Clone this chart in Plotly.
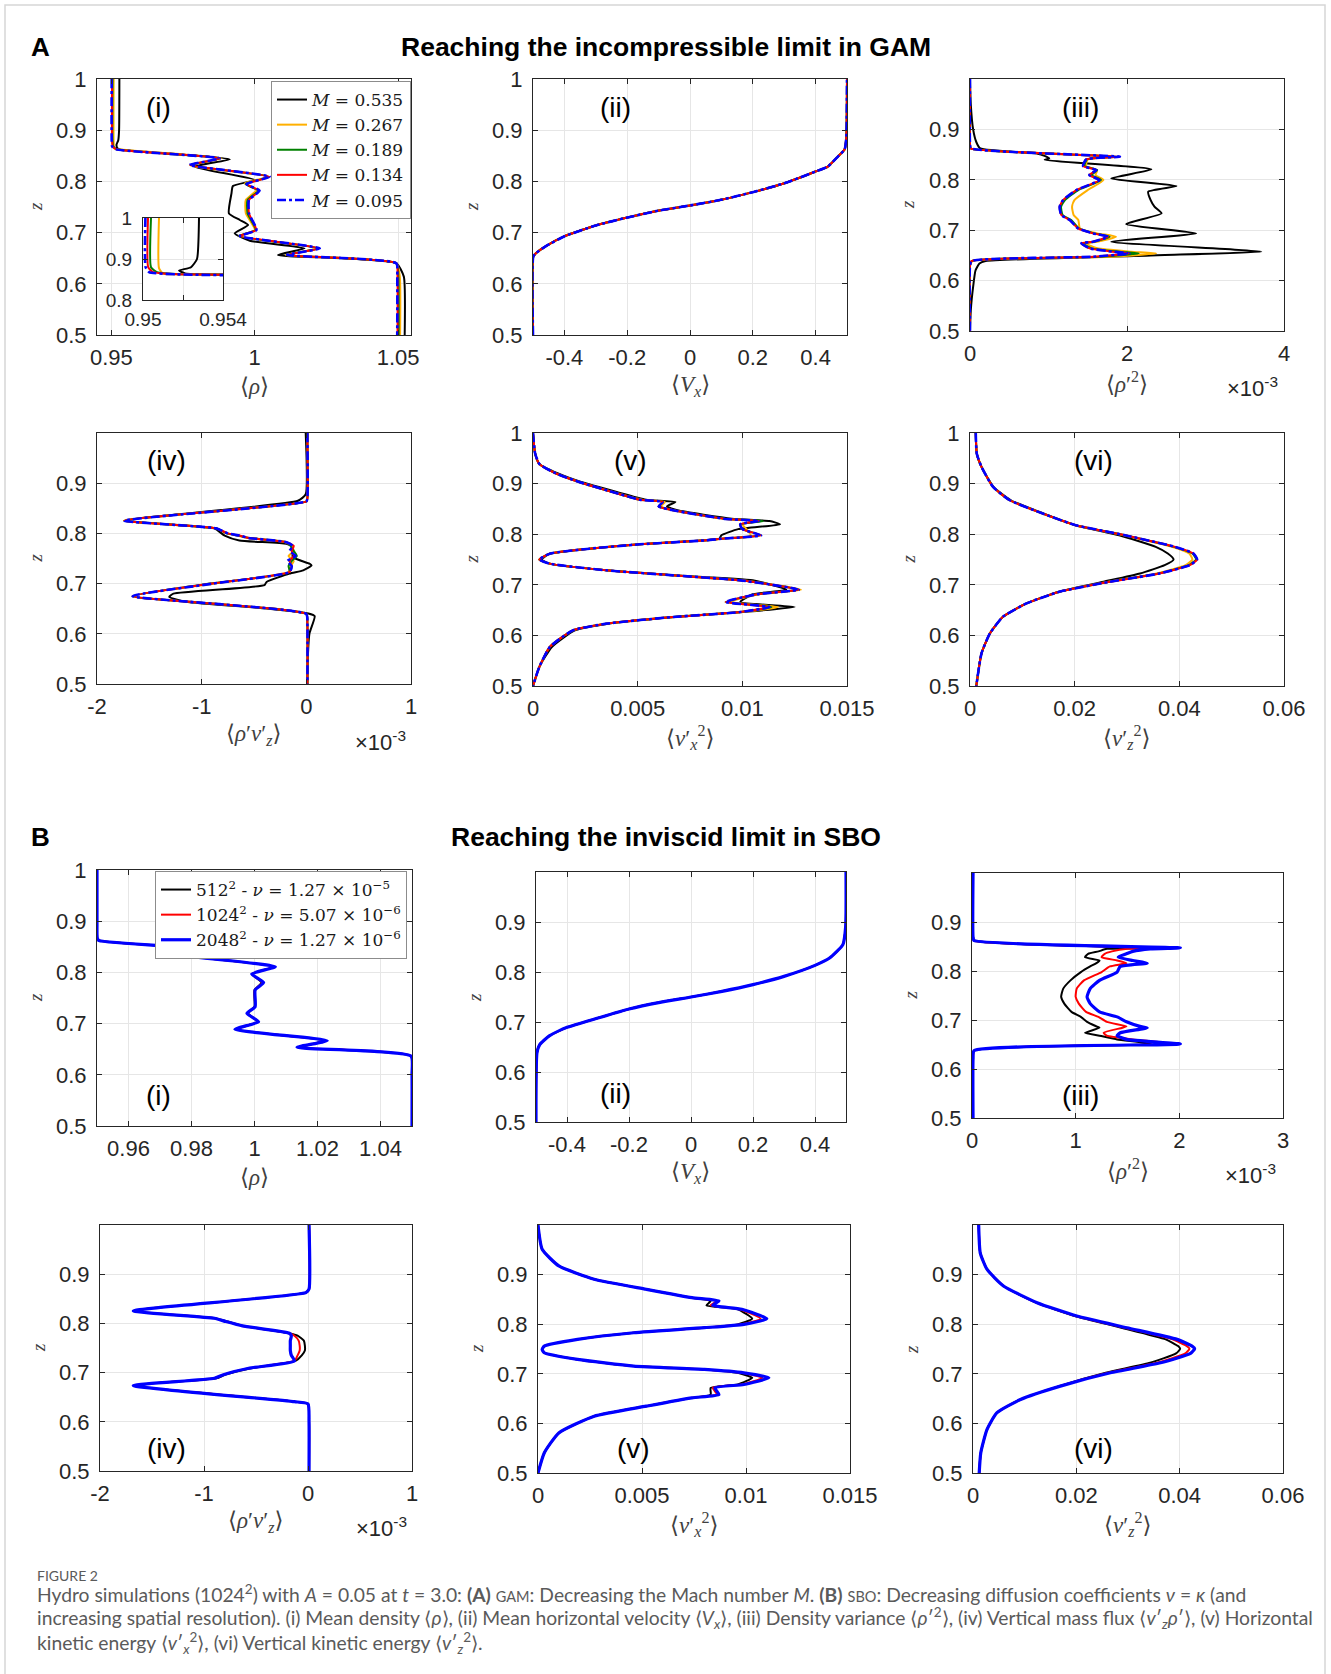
import plotly.graph_objects as go

W, H = 1331, 1674

# ======================= DATA =======================
# ---- Panel A : GAM, decreasing Mach number ----
mach_values = ["0.535", "0.267", "0.189", "0.134", "0.095"]

# A(i) mean density <rho>(z)
zA1_black = [1.0, 0.9, 0.88, 0.8718, 0.8650, 0.8626, 0.8431, 0.8288, 0.8027, 0.791, 0.7767, 0.7376, 0.7246,
             0.7148, 0.6986, 0.6842, 0.6693, 0.6563, 0.640, 0.614, 0.5]
rhoA1_black = [0.9528, 0.9527, 0.9524, 0.9518, 0.9521, 0.9530, 0.9913, 0.9791, 1.0, 0.9924, 0.9919, 0.991, 0.9948,
               0.9977, 0.993, 0.9983, 1.0174, 1.0081, 1.0494, 1.052, 1.0523]
zA1_orange = [1.0, 0.8776, 0.8645, 0.8626, 0.845, 0.8307, 0.8092, 0.7962, 0.7832, 0.7637, 0.7376, 0.7051, 0.6934,
              0.6693, 0.6563, 0.640, 0.614, 0.5]
rhoA1_orange = [0.9508, 0.9508, 0.9510, 0.9520, 0.9884, 0.9776, 1.0047, 0.9965, 1.0006, 0.9969, 0.9969, 1.0,
                0.9945, 1.0221, 1.0108, 1.0494, 1.0506, 1.0507]
zA1_conv = [1.0, 0.88, 0.868, 0.8626, 0.845, 0.832, 0.8092, 0.7949, 0.7819, 0.7637, 0.7376, 0.7051, 0.6934, 0.6693,
            0.6563, 0.640, 0.614, 0.5]
rhoA1_green = [0.9504, 0.9504, 0.9507, 0.9519, 0.9881, 0.9775, 1.0049, 0.9968, 1.0012, 0.9975, 0.9975, 1.0003,
               0.9946, 1.0224, 1.0111, 1.0494, 1.0501, 1.0502]
rhoA1_red = [0.95025, 0.95026, 0.9505, 0.9518, 0.9880, 0.9774, 1.0051, 0.9971, 1.0016, 0.998, 0.998, 1.0005,
             0.9948, 1.0226, 1.0113, 1.0494, 1.0498, 1.0498]
rhoA1_blue = [0.95012, 0.95013, 0.9503, 0.9517, 0.9878, 0.9773, 1.0052, 0.9971, 1.0017, 0.998, 0.998, 1.0006,
              0.9948, 1.0227, 1.0113, 1.0494, 1.0497, 1.0497]

# A(ii) mean horizontal velocity <Vx>(z) (all Mach numbers overlap)
zA2 = [0.5, 0.6534, 0.660, 0.673, 0.6925, 0.7139, 0.7295, 0.7432, 0.7530, 0.764, 0.779, 0.7965, 0.8193, 0.829,
       0.8485, 0.8628, 0.8875, 1.0]
vxA2 = [-0.5, -0.499, -0.49, -0.46, -0.401, -0.300, -0.199, -0.098, 0.0, 0.099, 0.2, 0.301, 0.4, 0.439, 0.471,
        0.4925, 0.498, 0.5]

# A(iii) density variance <rho'^2>  (units of 1e-3)
zA3_black = [1.0, 0.95, 0.9, 0.875, 0.8623, 0.852, 0.8475, 0.8425, 0.8395, 0.8207, 0.8028, 0.7876, 0.7764, 0.76,
             0.7466, 0.7334, 0.7122, 0.6937, 0.6772, 0.6574, 0.650, 0.6388, 0.634, 0.62, 0.588, 0.541, 0.5]
rho2A3_black = [0.0, 0.01, 0.04, 0.08, 0.13, 0.85, 0.95, 1.01, 0.95, 2.31, 1.80, 2.63, 2.27, 2.30, 2.35, 2.44,
                1.99, 2.88, 1.80, 3.71, 2.30, 0.20, 0.12, 0.07, 0.04, 0.01, 0.0]
zA3 = [1.0, 0.87, 0.8623, 0.8458, 0.8405, 0.8273, 0.8193, 0.8094, 0.7995, 0.7797, 0.7598, 0.7466, 0.7301, 0.7202,
       0.7036, 0.6937, 0.6871, 0.6772, 0.6739, 0.6640, 0.6574, 0.6540, 0.6474, 0.6388, 0.63, 0.5]
rho2A3_orange = [0, 0, 0.01, 1.88, 1.50, 1.48, 1.62, 1.60, 1.70, 1.50, 1.33, 1.30, 1.32, 1.38, 1.40, 1.62, 1.86,
                 1.62, 1.48, 1.62, 2.05, 2.37, 1.80, 0.03, 0, 0]
rho2A3_green = [0, 0, 0.01, 1.90, 1.49, 1.46, 1.62, 1.55, 1.67, 1.38, 1.21, 1.16, 1.18, 1.29, 1.39, 1.58, 1.78,
                1.58, 1.44, 1.55, 1.90, 2.15, 1.65, 0.02, 0, 0]
rho2A3_red = [0, 0, 0.01, 1.91, 1.48, 1.44, 1.61, 1.52, 1.65, 1.355, 1.185, 1.142, 1.163, 1.27, 1.376, 1.567,
              1.758, 1.567, 1.418, 1.524, 1.82, 2.03, 1.57, 0.02, 0, 0]
rho2A3_blue = [0, 0, 0.01, 1.91, 1.48, 1.44, 1.61, 1.52, 1.65, 1.355, 1.185, 1.142, 1.163, 1.27, 1.376, 1.567,
               1.758, 1.567, 1.418, 1.524, 1.82, 2.03, 1.57, 0.02, 0, 0]

# A(iv) vertical mass flux <rho' vz'> (units of 1e-3)
zA4_black = [1.0, 0.878, 0.865, 0.8254, 0.81, 0.7957, 0.7858, 0.7792, 0.7726, 0.7528, 0.7396, 0.7363, 0.7264,
             0.72, 0.7033, 0.697, 0.68, 0.6736, 0.6637, 0.6505, 0.6406, 0.6353, 0.601, 0.5614, 0.5]
fluxA4_black = [-0.006, -0.006, -0.08, -1.72, -0.88, -0.78, -0.64, -0.19, -0.13, -0.13, 0.03, 0.05, -0.03, -0.16,
                -0.38, -0.40, -1.27, -1.31, -1.15, -0.38, 0.02, 0.08, 0.03, 0.016, 0.01]
zA4 = [1.0, 0.87, 0.8637, 0.8254, 0.81, 0.80, 0.7957, 0.791, 0.7825, 0.775, 0.765, 0.755, 0.745, 0.735, 0.7231,
       0.70, 0.675, 0.6393, 0.62, 0.5]
fluxA4_orange = [0.01, 0.01, 0.0, -1.74, -0.86, -0.76, -0.66, -0.56, -0.20, -0.14, -0.12, -0.17, -0.12, -0.15,
                 -0.17, -0.88, -1.66, 0.0, 0.01, 0.01]
fluxA4_green = [0.01, 0.01, 0.0, -1.74, -0.86, -0.76, -0.65, -0.55, -0.19, -0.15, -0.12, -0.09, -0.14, -0.17,
                -0.16, -0.92, -1.66, 0.0, 0.01, 0.01]
fluxA4_red = [0.01, 0.01, 0.0, -1.74, -0.86, -0.75, -0.64, -0.55, -0.19, -0.12, -0.14, -0.12, -0.16, -0.14,
              -0.16, -0.90, -1.66, 0.0, 0.01, 0.01]
fluxA4_blue = [0.01, 0.01, 0.0, -1.74, -0.86, -0.75, -0.64, -0.55, -0.19, -0.13, -0.16, -0.10, -0.18, -0.14,
               -0.16, -0.89, -1.66, 0.0, 0.01, 0.01]

# A(v) horizontal kinetic energy <vx'^2>
zA5 = [1.0, 0.96, 0.939, 0.92, 0.9032, 0.8834, 0.8682, 0.8636, 0.855, 0.8472, 0.8307, 0.826, 0.8195, 0.81, 0.7978,
       0.791, 0.788, 0.78, 0.7714, 0.7615, 0.75, 0.7418, 0.7286, 0.7187, 0.7088, 0.6904, 0.6812, 0.666, 0.6561,
       0.6462, 0.6364, 0.6232, 0.61, 0.5771, 0.5375, 0.5]
ekxA5_black = [0.0, 0.0001, 0.0003, 0.0012, 0.0023, 0.0040, 0.0054, 0.0068, 0.0064, 0.0069, 0.0095, 0.0113,
               0.0118, 0.0098, 0.0090, 0.0089, 0.0083, 0.0051, 0.0027, 0.0008, 0.0004, 0.0008, 0.0035, 0.0068,
               0.0105, 0.0121, 0.0105, 0.0099, 0.0125, 0.0100, 0.0068, 0.0036, 0.0020, 0.0009, 0.0003, 0.0]
ekxA5_orange = [0.0, 0.0001, 0.0003, 0.0011, 0.0022, 0.0038, 0.0052, 0.0063, 0.0061, 0.0067, 0.0091, 0.0108,
                0.0100, 0.0102, 0.0104, 0.0090, 0.0083, 0.0051, 0.0027, 0.0008, 0.0003, 0.0008, 0.0035, 0.0067,
                0.0100, 0.0128, 0.0108, 0.0094, 0.0117, 0.0100, 0.0067, 0.0035, 0.0019, 0.0008, 0.0003, 0.0]
ekxA5_green = [0.0, 0.0001, 0.0003, 0.0011, 0.0022, 0.0038, 0.0051, 0.0062, 0.0060, 0.0067, 0.0091, 0.0110,
               0.0099, 0.0100, 0.0109, 0.0090, 0.0083, 0.0051, 0.0027, 0.0008, 0.0003, 0.0008, 0.0035, 0.0067,
               0.0099, 0.0127, 0.0107, 0.0092, 0.0114, 0.0099, 0.0067, 0.0035, 0.0019, 0.0008, 0.0003, 0.0]
ekxA5_red = [0.0, 0.0001, 0.0003, 0.0011, 0.0022, 0.0038, 0.0051, 0.0062, 0.0060, 0.0067, 0.0091, 0.0108,
             0.0099, 0.0100, 0.0109, 0.0090, 0.0083, 0.0051, 0.0027, 0.0008, 0.0003, 0.0008, 0.0035, 0.0067,
             0.0099, 0.0127, 0.0107, 0.0092, 0.0113, 0.0099, 0.0067, 0.0035, 0.0019, 0.0008, 0.0003, 0.0]
ekxA5_blue = [0.0, 0.0001, 0.0003, 0.0011, 0.0022, 0.0038, 0.0051, 0.0062, 0.0060, 0.0067, 0.0091, 0.0108,
              0.0099, 0.0100, 0.0109, 0.0090, 0.0083, 0.0051, 0.0027, 0.0008, 0.0003, 0.0008, 0.0035, 0.0067,
              0.0099, 0.0127, 0.0107, 0.0092, 0.0113, 0.0099, 0.0067, 0.0035, 0.0019, 0.0008, 0.0003, 0.0]

# A(vi) vertical kinetic energy <vz'^2>
zA6 = [1.0, 0.959, 0.933, 0.8934, 0.8671, 0.8408, 0.8178, 0.798, 0.775, 0.7618, 0.75, 0.7388, 0.7224, 0.7059,
       0.6862, 0.6632, 0.6368, 0.6039, 0.5645, 0.5]
ekzA6_black = [0.0011, 0.0013, 0.0022, 0.0045, 0.0078, 0.0141, 0.0202, 0.0285, 0.0355, 0.0378, 0.0389, 0.0372,
               0.0325, 0.0255, 0.0170, 0.0108, 0.0063, 0.0038, 0.0022, 0.0012]
ekzA6_orange = [0.0011, 0.0013, 0.0022, 0.0044, 0.0076, 0.0139, 0.0201, 0.0294, 0.0386, 0.0419, 0.0425, 0.0412,
                0.0357, 0.0265, 0.0171, 0.0108, 0.0063, 0.0038, 0.0022, 0.0012]
ekzA6_green = [0.0011, 0.0013, 0.0022, 0.0044, 0.0076, 0.0139, 0.0202, 0.0296, 0.0390, 0.0425, 0.0432, 0.0418,
               0.0361, 0.0267, 0.0171, 0.0108, 0.0063, 0.0038, 0.0022, 0.0012]
ekzA6_red = [0.0011, 0.0013, 0.0022, 0.0044, 0.0076, 0.0139, 0.0202, 0.0296, 0.0392, 0.0427, 0.0434, 0.0420,
             0.0362, 0.0267, 0.0171, 0.0108, 0.0063, 0.0038, 0.0022, 0.0012]
ekzA6_blue = [0.0011, 0.0013, 0.0022, 0.0044, 0.0076, 0.0139, 0.0202, 0.0296, 0.0392, 0.0427, 0.0434, 0.0420,
              0.0362, 0.0267, 0.0171, 0.0108, 0.0063, 0.0038, 0.0022, 0.0012]

# ---- Panel B : SBO, decreasing diffusion coefficients ----
res_labels = ["512", "1024", "2048"]
nu_labels = [("1.27", "−5"), ("5.07", "−6"), ("1.27", "−6")]

zB1 = [1.0, 0.9, 0.8665, 0.862, 0.8438, 0.834, 0.8112, 0.7969, 0.78, 0.7656, 0.733, 0.72, 0.7038, 0.6888, 0.6667,
       0.6536, 0.6367, 0.6, 0.5]
rhoB1_black = [0.9500, 0.9500, 0.9501, 0.9507, 0.9865, 0.9772, 1.0062, 0.9993, 1.0022, 1.0000, 1.0000, 0.9980,
               1.0009, 0.9942, 1.0226, 1.0139, 1.0497, 1.0500, 1.0500]
rhoB1_red = [0.9500, 0.9500, 0.9501, 0.9507, 0.9867, 0.9770, 1.0064, 0.9992, 1.0025, 1.0001, 1.0001, 0.9978,
             1.0011, 0.9940, 1.0229, 1.0137, 1.0497, 1.0500, 1.0500]
rhoB1_blue = [0.9500, 0.9500, 0.9501, 0.9507, 0.9869, 0.9768, 1.0066, 0.9991, 1.0029, 1.0002, 1.0002, 0.9976,
              1.0013, 0.9938, 1.0231, 1.0135, 1.0497, 1.0500, 1.0500]

zB2 = [0.5, 0.638, 0.6547, 0.6727, 0.6893, 0.708, 0.726, 0.7393, 0.75, 0.7613, 0.7747, 0.7913, 0.8133, 0.828,
       0.8547, 0.891, 1.0]
vxB2 = [-0.5, -0.497, -0.488, -0.456, -0.4, -0.3, -0.2, -0.1, 0.0, 0.1, 0.2, 0.3, 0.4, 0.447, 0.49, 0.499, 0.5]

zB3 = [1.0, 0.87, 0.862, 0.8472, 0.8452, 0.840, 0.835, 0.8283, 0.8215, 0.8161, 0.8093, 0.7978, 0.7809, 0.764,
       0.747, 0.7335, 0.7166, 0.7064, 0.6963, 0.6870, 0.6841, 0.6739, 0.6680, 0.6604, 0.651, 0.6374, 0.62, 0.5]
rho2B3_black = [0.01, 0.01, 0.02, 1.73, 1.30, 1.22, 1.12, 1.09, 1.23, 1.20, 1.14, 1.05, 0.95, 0.88, 0.86, 0.89,
                0.96, 1.05, 1.11, 1.20, 1.23, 1.09, 1.23, 1.40, 1.73, 0.02, 0.01, 0.01]
rho2B3_red = [0.01, 0.01, 0.02, 1.95, 1.50, 1.35, 1.28, 1.25, 1.40, 1.49, 1.33, 1.25, 1.08, 1.01, 1.00, 1.03, 1.10,
              1.22, 1.30, 1.49, 1.45, 1.27, 1.30, 1.55, 1.95, 0.02, 0.01, 0.01]
rho2B3_blue = [0.01, 0.01, 0.02, 2.01, 1.72, 1.55, 1.49, 1.41, 1.55, 1.69, 1.43, 1.40, 1.23, 1.14, 1.11, 1.14,
               1.23, 1.40, 1.49, 1.62, 1.69, 1.43, 1.40, 1.49, 2.01, 0.02, 0.01, 0.01]

zB4 = [1.0, 0.87, 0.8627, 0.8254, 0.8105, 0.8037, 0.7949, 0.78, 0.775, 0.765, 0.755, 0.745, 0.735, 0.7237, 0.7088,
       0.6953, 0.6885, 0.6736, 0.6410, 0.6363, 0.60, 0.5]
fluxB4_black = [0.01, 0.01, -0.02, -1.68, -0.90, -0.77, -0.62, -0.18, -0.10, -0.04, -0.03, -0.03, -0.06, -0.12,
                -0.55, -0.80, -0.88, -1.68, -0.13, 0.0, 0.01, 0.01]
fluxB4_red = [0.01, 0.01, -0.02, -1.68, -0.90, -0.79, -0.63, -0.18, -0.13, -0.09, -0.08, -0.08, -0.10, -0.13,
              -0.57, -0.82, -0.90, -1.68, -0.13, 0.0, 0.01, 0.01]
fluxB4_blue = [0.01, 0.01, -0.02, -1.68, -0.90, -0.79, -0.63, -0.18, -0.16, -0.17, -0.17, -0.17, -0.16, -0.13,
               -0.57, -0.82, -0.90, -1.68, -0.13, 0.0, 0.01, 0.01]

zB5 = [1.0, 0.951, 0.9175, 0.8906, 0.8704, 0.8535, 0.8468, 0.838, 0.83, 0.8111, 0.7997, 0.7929, 0.7828, 0.7694,
       0.7559, 0.7492, 0.7424, 0.729, 0.7155, 0.7088, 0.702, 0.6919, 0.6785, 0.6717, 0.6582, 0.6515, 0.6347, 0.6145,
       0.5808, 0.5404, 0.5]
ekxB5_black = [0.0, 0.0002, 0.0010, 0.0027, 0.0052, 0.0074, 0.0083, 0.0081, 0.0096, 0.0103, 0.0096, 0.0080,
               0.0046, 0.0019, 0.0003, 0.0002, 0.0003, 0.0019, 0.0046, 0.0080, 0.0096, 0.0103, 0.0096, 0.0083,
               0.0083, 0.0074, 0.0052, 0.0027, 0.0010, 0.0003, 0.0]
ekxB5_red = [0.0, 0.0002, 0.0010, 0.0027, 0.0052, 0.0074, 0.0086, 0.0083, 0.0097, 0.0107, 0.0098, 0.0080, 0.0046,
             0.0019, 0.0003, 0.0002, 0.0003, 0.0019, 0.0046, 0.0080, 0.0098, 0.0108, 0.0098, 0.0084, 0.0086, 0.0074,
             0.0052, 0.0027, 0.0010, 0.0003, 0.0]
ekxB5_blue = [0.0, 0.0002, 0.0010, 0.0027, 0.0052, 0.0074, 0.0087, 0.0084, 0.0098, 0.0110, 0.0099, 0.0080, 0.0046,
              0.0019, 0.0003, 0.0002, 0.0003, 0.0019, 0.0046, 0.0080, 0.0099, 0.0111, 0.0099, 0.0085, 0.0087,
              0.0074, 0.0052, 0.0027, 0.0010, 0.0003, 0.0]

zB6 = [1.0, 0.944, 0.9108, 0.8771, 0.8434, 0.8165, 0.7929, 0.7694, 0.7559, 0.7505, 0.7411, 0.7222, 0.702, 0.6751,
       0.6482, 0.6212, 0.5875, 0.5404, 0.5]
ekzB6_black = [0.0011, 0.0014, 0.0027, 0.0059, 0.0122, 0.0197, 0.0287, 0.0373, 0.0397, 0.0401, 0.0393, 0.0343,
               0.0257, 0.0167, 0.0092, 0.0046, 0.0027, 0.0015, 0.0012]
ekzB6_red = [0.0011, 0.0014, 0.0027, 0.0059, 0.0123, 0.0199, 0.0293, 0.0386, 0.0414, 0.0419, 0.0411, 0.0356,
             0.0262, 0.0168, 0.0092, 0.0046, 0.0027, 0.0015, 0.0012]
ekzB6_blue = [0.0011, 0.0014, 0.0027, 0.0059, 0.0124, 0.0201, 0.0298, 0.0395, 0.0424, 0.0429, 0.0421, 0.0363,
              0.0266, 0.0169, 0.0092, 0.0046, 0.0027, 0.0015, 0.0012]

# ---- tick values / labels ----
z_ticks_full = [0.5, 0.6, 0.7, 0.8, 0.9, 1.0]
z_ticktext_full = ["0.5", "0.6", "0.7", "0.8", "0.9", "1"]
z_ticks_short = [0.5, 0.6, 0.7, 0.8, 0.9]
z_ticktext_short = ["0.5", "0.6", "0.7", "0.8", "0.9"]
rhoA_ticks, rhoA_text = [0.95, 1.0, 1.05], ["0.95", "1", "1.05"]
rhoB_ticks, rhoB_text = [0.96, 0.98, 1.0, 1.02, 1.04], ["0.96", "0.98", "1", "1.02", "1.04"]
vx_ticks, vx_text = [-0.4, -0.2, 0, 0.2, 0.4], ["-0.4", "-0.2", "0", "0.2", "0.4"]
rho2A_ticks, rho2A_text = [0, 2, 4], ["0", "2", "4"]
rho2B_ticks, rho2B_text = [0, 1, 2, 3], ["0", "1", "2", "3"]
flux_ticks, flux_text = [-2, -1, 0, 1], ["-2", "-1", "0", "1"]
ekx_ticks, ekx_text = [0, 0.005, 0.01, 0.015], ["0", "0.005", "0.01", "0.015"]
ekz_ticks, ekz_text = [0, 0.02, 0.04, 0.06], ["0", "0.02", "0.04", "0.06"]
inset_xticks, inset_xtext = [0.95, 0.952, 0.954], ["0.95", "", "0.954"]
inset_zticks, inset_ztext = [0.8, 0.9, 1.0], ["0.8", "0.9", "1"]

# ======================= STYLE / LAYOUT =======================
colA = ["#000000", "#FFB000", "#008000", "#FF0000", "#0000FF"]
lineA = [dict(width=2), dict(width=2), dict(width=2), dict(width=2), dict(width=2.6, dash="dashdot")]
colB = ["#000000", "#FF0000", "#0000FF"]
lineB = [dict(width=2), dict(width=2), dict(width=3.2)]

namesA = ["<i>M</i> = " + m for m in mach_values]
namesB = [r + "<sup>2</sup> - <i>ν</i> = " + a + " × 10<sup>" + e + "</sup>" for r, (a, e) in zip(res_labels, nu_labels)]

TICKFONT = dict(family="Liberation Sans, Arial, sans-serif", size=22, color="#262626")
SERIF = "Liberation Serif, DejaVu Serif, serif"
LEGSERIF = "DejaVu Serif, Liberation Serif, serif"

layout = dict(width=W, height=H, margin=dict(l=0, r=0, t=0, b=0, autoexpand=False), autosize=False,
              template="none", paper_bgcolor="white", plot_bgcolor="white", showlegend=True)
annotations = []
shapes = []


def ann(text, x, y, size, family="Liberation Sans, Arial, sans-serif", color="#000000",
        xanchor="center", yanchor="middle", angle=0):
    annotations.append(dict(text=text, x=x / W, y=1 - y / H, xref="paper", yref="paper", showarrow=False,
                            font=dict(family=family, size=size, color=color), xanchor=xanchor,
                            yanchor=yanchor, textangle=angle))


def add_axes(n, box, xr, xt, xtt, yt, ytt, yr=(0.5, 1.0), fsize=22, xstand=3, ystand=5):
    x0, x1, y0, y1 = box
    sfx = "" if n == 1 else str(n)
    common = dict(showline=True, linecolor="#262626", linewidth=1, mirror="ticks", ticks="inside", ticklen=5,
                  tickcolor="#262626", showgrid=True, gridcolor="#e6e6e6", gridwidth=1, zeroline=False,
                  tickfont=dict(TICKFONT, size=fsize), tickmode="array", fixedrange=True, automargin=False)
    layout["xaxis" + sfx] = dict(common, domain=[x0 / W, x1 / W], range=list(xr), anchor="y" + sfx,
                                 tickvals=xt, ticktext=xtt, ticklabelstandoff=xstand)
    layout["yaxis" + sfx] = dict(common, domain=[1 - y1 / H, 1 - y0 / H], range=list(yr), anchor="x" + sfx,
                                 tickvals=yt, ticktext=ytt, ticklabelstandoff=ystand)
    return ("x" + sfx, "y" + sfx)


traces = []


def add_series(axes, curves, colors, lines, names=None, legend=None):
    for i, (z, v) in enumerate(curves):
        traces.append(go.Scatter(
            x=v, y=z, xaxis=axes[0], yaxis=axes[1], mode="lines",
            line=dict(color=colors[i], shape="spline", smoothing=0.5, **lines[i]),
            name=names[i] if names else None, showlegend=bool(names), legend=legend,
            hoverinfo="skip"))


# panel boxes (pixel: left, right, top, bottom)
boxes = {
    "A1": (97, 411, 79, 335), "A2": (533, 847, 79, 335), "A3": (970, 1284, 79, 331),
    "A4": (97, 411, 433, 684), "A5": (533, 847, 433, 686), "A6": (970, 1284, 433, 686),
    "B1": (97, 412, 870, 1126), "B2": (536, 846, 872, 1122), "B3": (972, 1283, 873, 1118),
    "B4": (100, 412, 1225, 1471), "B5": (538, 850, 1225, 1473), "B6": (973, 1283, 1225, 1473),
}

# ---- Panel A ----
ax = add_axes(1, boxes["A1"], (0.945, 1.0545), rhoA_ticks, rhoA_text, z_ticks_full, z_ticktext_full)
add_series(ax, [(zA1_black, rhoA1_black), (zA1_orange, rhoA1_orange), (zA1_conv, rhoA1_green),
                (zA1_conv, rhoA1_red), (zA1_conv, rhoA1_blue)], colA, lineA, namesA, "legend")
ax = add_axes(2, boxes["A2"], (-0.5, 0.5), vx_ticks, vx_text, z_ticks_full, z_ticktext_full)
add_series(ax, [(zA2, vxA2)] * 5, colA, lineA)
ax = add_axes(3, boxes["A3"], (0, 4), rho2A_ticks, rho2A_text, z_ticks_short, z_ticktext_short)
add_series(ax, [(zA3_black, rho2A3_black), (zA3, rho2A3_orange), (zA3, rho2A3_green), (zA3, rho2A3_red),
                (zA3, rho2A3_blue)], colA, lineA)
ax = add_axes(4, boxes["A4"], (-2, 1), flux_ticks, flux_text, z_ticks_short, z_ticktext_short)
add_series(ax, [(zA4_black, fluxA4_black), (zA4, fluxA4_orange), (zA4, fluxA4_green), (zA4, fluxA4_red),
                (zA4, fluxA4_blue)], colA, lineA)
ax = add_axes(5, boxes["A5"], (0, 0.015), ekx_ticks, ekx_text, z_ticks_full, z_ticktext_full)
add_series(ax, [(zA5, ekxA5_black), (zA5, ekxA5_orange), (zA5, ekxA5_green), (zA5, ekxA5_red),
                (zA5, ekxA5_blue)], colA, lineA)
ax = add_axes(6, boxes["A6"], (0, 0.06), ekz_ticks, ekz_text, z_ticks_full, z_ticktext_full)
add_series(ax, [(zA6, ekzA6_black), (zA6, ekzA6_orange), (zA6, ekzA6_green), (zA6, ekzA6_red),
                (zA6, ekzA6_blue)], colA, lineA)

# ---- Panel B ----
ax = add_axes(7, boxes["B1"], (0.95, 1.05), rhoB_ticks, rhoB_text, z_ticks_full, z_ticktext_full)
add_series(ax, [(zB1, rhoB1_black), (zB1, rhoB1_red), (zB1, rhoB1_blue)], colB, lineB, namesB, "legend2")
ax = add_axes(8, boxes["B2"], (-0.5, 0.5), vx_ticks, vx_text, z_ticks_short, z_ticktext_short)
add_series(ax, [(zB2, vxB2)] * 3, colB, lineB)
ax = add_axes(9, boxes["B3"], (0, 3), rho2B_ticks, rho2B_text, z_ticks_short, z_ticktext_short)
add_series(ax, [(zB3, rho2B3_black), (zB3, rho2B3_red), (zB3, rho2B3_blue)], colB, lineB)
ax = add_axes(10, boxes["B4"], (-2, 1), flux_ticks, flux_text, z_ticks_short, z_ticktext_short)
add_series(ax, [(zB4, fluxB4_black), (zB4, fluxB4_red), (zB4, fluxB4_blue)], colB, lineB)
ax = add_axes(11, boxes["B5"], (0, 0.015), ekx_ticks, ekx_text, z_ticks_short, z_ticktext_short)
add_series(ax, [(zB5, ekxB5_black), (zB5, ekxB5_red), (zB5, ekxB5_blue)], colB, lineB)
ax = add_axes(12, boxes["B6"], (0, 0.06), ekz_ticks, ekz_text, z_ticks_short, z_ticktext_short)
add_series(ax, [(zB6, ekzB6_black), (zB6, ekzB6_red), (zB6, ekzB6_blue)], colB, lineB)

# ---- inset of A(i) ----
inset_box = (143, 223, 218, 300)
ax = add_axes(13, inset_box, (0.95, 0.954), inset_xticks, inset_xtext, inset_zticks, inset_ztext,
              yr=(0.8, 1.0), fsize=19, xstand=2, ystand=6)
shapes.append(dict(type="rect", xref="x13", yref="y13", x0=0.95, x1=0.954, y0=0.8, y1=1.0,
                   fillcolor="white", line=dict(width=0), layer="below"))
add_series(ax, [(zA1_black, rhoA1_black), (zA1_orange, rhoA1_orange), (zA1_conv, rhoA1_green),
                (zA1_conv, rhoA1_red), (zA1_conv, rhoA1_blue)], colA, lineA)

# ---- legends ----
leg_common = dict(xanchor="left", yanchor="top", bgcolor="white", bordercolor="#8c8c8c", borderwidth=1,
                  font=dict(family=LEGSERIF, size=17, color="#1a1a1a"), tracegroupgap=0, itemwidth=30,
                  traceorder="normal")
layout["legend"] = dict(leg_common, x=271 / W, y=1 - 81 / H)
layout["legend2"] = dict(leg_common, x=155 / W, y=1 - 871 / H)

# ---- text: headings, panel labels, axis titles ----
ann("<b>A</b>", 40, 47, 26, xanchor="center")
ann("<b>Reaching the incompressible limit in GAM</b>", 666, 47, 26.5)
ann("<b>B</b>", 40, 837, 26, xanchor="center")
ann("<b>Reaching the inviscid limit in SBO</b>", 666, 837, 26.5)

panel_labels = ["(i)", "(ii)", "(iii)", "(iv)", "(v)", "(vi)"]
label_pos_A = [(158, 107), (615, 107), (1080, 107), (167, 460), (630, 460), (1093, 460)]
label_pos_B = [(158, 1095), (615, 1093), (1080, 1095), (167, 1448), (633, 1448), (1093, 1448)]
for lab, (x, y) in zip(panel_labels, label_pos_A):
    ann(lab, x, y, 28)
for lab, (x, y) in zip(panel_labels, label_pos_B):
    ann(lab, x, y, 28)

xtitles = ["⟨<i>ρ</i>⟩", "⟨<i>V<sub>x</sub></i>⟩", "⟨<i>ρ</i>′<sup>2</sup>⟩", "⟨<i>ρ</i>′<i>v</i>′<sub><i>z</i></sub>⟩",
           "⟨<i>v</i>′<sub><i>x</i></sub><sup>2</sup>⟩", "⟨<i>v</i>′<sub><i>z</i></sub><sup>2</sup>⟩"]
for grp in ("A", "B"):
    for k in range(6):
        x0, x1, y0, y1 = boxes[grp + str(k + 1)]
        ann(xtitles[k], (x0 + x1) / 2, y1 + 51, 23, family=SERIF, color="#404040")
        ann("<i>z</i>", x0 - 62, (y0 + y1) / 2, 19, family=SERIF, color="#404040", angle=-90)

for (x, y) in [(1252, 387), (380, 741), (1250, 1174), (381, 1527)]:
    ann("×10<sup>-3</sup>", x, y, 22, color="#262626")

# ---- caption ----
CAP = "Lato, Noto Sans, sans-serif"
capc = "#5a5a5a"
ann("FIGURE 2", 35, 1575, 14, family=CAP, color=capc, xanchor="left")
ann("Hydro simulations (1024<sup>2</sup>) with <i>A</i> = 0.05 at <i>t</i> = 3.0: <b>(A)</b> "
    "<span style='font-size:14.5px'>GAM</span>: Decreasing the Mach number <i>M</i>. <b>(B)</b> "
    "<span style='font-size:14.5px'>SBO</span>: Decreasing diffusion coefficients <i>ν</i> = <i>κ</i> (and",
    35, 1593, 19.3, family=CAP, color=capc, xanchor="left")
ann("increasing spatial resolution). (i) Mean density ⟨<i>ρ</i>⟩, (ii) Mean horizontal velocity "
    "⟨<i>V<sub>x</sub></i>⟩, (iii) Density variance ⟨<i>ρ</i>′<sup>2</sup>⟩, (iv) Vertical mass flux "
    "⟨<i>v</i>′<sub><i>z</i></sub><i>ρ</i>′⟩, (v) Horizontal",
    35, 1618, 19.3, family=CAP, color=capc, xanchor="left")
ann("kinetic energy ⟨<i>v</i>′<sub><i>x</i></sub><sup>2</sup>⟩, (vi) Vertical kinetic energy "
    "⟨<i>v</i>′<sub><i>z</i></sub><sup>2</sup>⟩.",
    35, 1643, 19.3, family=CAP, color=capc, xanchor="left")

# outer light border
shapes.append(dict(type="rect", xref="paper", yref="paper", x0=5 / W, x1=1325 / W, y0=-0.01, y1=1 - 5 / H,
                   line=dict(color="#d6d6d6", width=1.5), fillcolor="rgba(0,0,0,0)", layer="below"))

layout["annotations"] = annotations
layout["shapes"] = shapes

fig = go.Figure(data=traces, layout=layout)
fig.write_html("out.html", config={"displayModeBar": False},
               post_script="document.body.style.margin='0';document.body.style.overflow='hidden';")
